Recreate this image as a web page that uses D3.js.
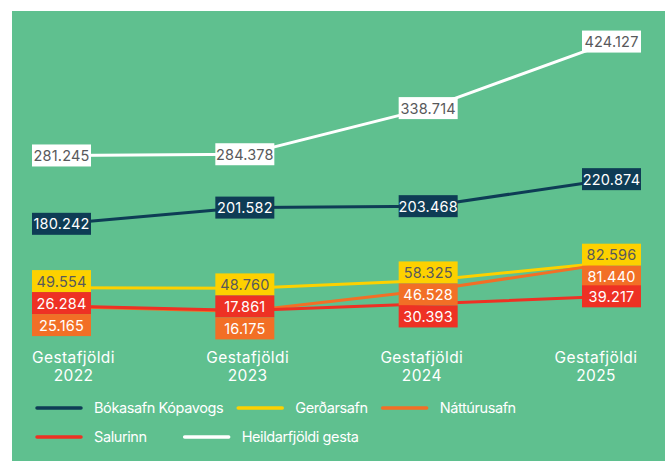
<!DOCTYPE html>
<html>
<head>
<meta charset="utf-8">
<script src="https://cdn.jsdelivr.net/npm/d3@7"></script>
<style>
    body { margin: 0; background: #fff; }
    svg { display: block; font-family: "Inter", "Liberation Sans", sans-serif; }
</style>
</head>
<body>
<div id="chart"></div>
<script>
// data
const years = ["2022", "2023", "2024", "2025"];
const seriesNames = ["Heildarfjöldi gesta", "Bókasafn Kópavogs", "Gerðarsafn", "Náttúrusafn", "Salurinn"];
const heildar = [281.245, 284.378, 338.714, 424.127];
const bokasafn = [180.242, 201.582, 203.468, 220.874];
const gerdarsafn = [49.554, 48.760, 58.325, 82.596];
const natturusafn = [25.165, 16.175, 46.528, 81.440];
const salurinn = [26.284, 17.861, 30.393, 39.217];
const legendOrder = ["Bókasafn Kópavogs", "Gerðarsafn", "Náttúrusafn", "Salurinn", "Heildarfjöldi gesta"];

const colors = {
    "Heildarfjöldi gesta": "#ffffff",
    "Bókasafn Kópavogs": "#0e3c55",
    "Gerðarsafn": "#fdd100",
    "Náttúrusafn": "#f26f26",
    "Salurinn": "#ee3124"
};
const labelText = {
    "Heildarfjöldi gesta": "#58595b",
    "Bókasafn Kópavogs": "#ffffff",
    "Gerðarsafn": "#58595b",
    "Náttúrusafn": "#ffffff",
    "Salurinn": "#ffffff"
};

const svgWidth = 668,
    svgHeight = 461;

let svg = d3.select("#chart").append("svg")
    .attr("width", svgWidth)
    .attr("height", svgHeight);

// green panel
svg.append("rect")
    .attr("x", 12)
    .attr("y", 11)
    .attr("width", 653)
    .attr("height", svgHeight - 11)
    .attr("fill", "#5fc08f");

let allValues = [heildar, bokasafn, gerdarsafn, natturusafn, salurinn];
let series = seriesNames.map((name, k) => ({
    name: name,
    values: allValues[k].map((v, i) => ({ year: years[i], value: v }))
}));

// scales - the original graphic squeezes the vertical axis unevenly
let xScale = d3.scalePoint()
    .domain(years)
    .range([61.5, 611.5]);
let xLabelScale = d3.scalePoint()
    .domain(years)
    .range([73.5, 596]);
let yScale = d3.scaleLinear()
    .domain([15, 30, 60, 85, 180, 205, 220, 285, 340, 430])
    .range([312, 304, 279, 260.5, 224, 205, 179.5, 154, 107, 37]);

let line = d3.line()
    .x((d) => xScale(d.year))
    .y((d) => yScale(d.value));

// lines, drawn back to front
let drawOrder = ["Heildarfjöldi gesta", "Bókasafn Kópavogs", "Gerðarsafn", "Náttúrusafn", "Salurinn"];
svg.append("g").selectAll("path")
    .data(drawOrder.map((n) => series.find((s) => s.name == n)))
    .join("path")
    .attr("d", (d) => line(d.values))
    .attr("fill", "none")
    .attr("stroke", (d) => colors[d.name])
    .attr("stroke-width", 3);

// value labels: stack boxes that would overlap
const boxW = 59, boxH = 22;
let labels = [];
years.forEach((yr, i) => {
    let items = series.map((s) => ({
        name: s.name,
        year: yr,
        value: s.values[i].value,
        target: yScale(s.values[i].value)
    })).sort((a, b) => a.target - b.target);

    // merge overlapping clusters
    let clusters = items.map((d) => ({ items: [d], center: d.target }));
    let merged = true;
    while (merged) {
        merged = false;
        for (let k = 0; k < clusters.length - 1; k++) {
            let a = clusters[k], b = clusters[k + 1];
            let aBottom = a.center + a.items.length * boxH / 2;
            let bTop = b.center - b.items.length * boxH / 2;
            if (aBottom > bTop) {
                let all = a.items.concat(b.items);
                clusters.splice(k, 2, { items: all, center: d3.mean(all, (d) => d.target) });
                merged = true;
                break;
            }
        }
    }
    clusters.forEach((c) => {
        let top = c.center - c.items.length * boxH / 2 + (c.items.length > 1 ? 3 : 0);
        c.items.forEach((d, j) => {
            d.y = top + j * boxH;
            labels.push(d);
        });
    });
});

let labelGroups = svg.append("g").selectAll("g")
    .data(labels)
    .join("g")
    .attr("transform", (d) => `translate(${xScale(d.year) - boxW / 2}, ${d.y})`);
labelGroups.append("rect")
    .attr("width", boxW)
    .attr("height", boxH)
    .attr("fill", (d) => colors[d.name]);
labelGroups.append("text")
    .attr("x", boxW / 2)
    .attr("y", boxH / 2 + 5.5)
    .attr("text-anchor", "middle")
    .attr("font-size", 14.5)
    .attr("letter-spacing", 0.2)
    .attr("fill", (d) => labelText[d.name])
    .text((d) => d3.format(".3f")(d.value));

// x axis labels
let xLabels = svg.append("g")
    .attr("font-size", 15.5)
    .attr("letter-spacing", 0.4)
    .attr("fill", "#ffffff")
    .attr("text-anchor", "middle");
xLabels.selectAll(".cat")
    .data(years)
    .join("text")
    .attr("class", "cat")
    .attr("x", (d) => xLabelScale(d))
    .attr("y", 363)
    .text("Gestafjöldi");
xLabels.selectAll(".yr")
    .data(years)
    .join("text")
    .attr("class", "yr")
    .attr("x", (d) => xLabelScale(d))
    .attr("y", 381)
    .text((d) => d);

// legend
let legend = svg.append("g");
let lx = 37, row = 0;
legendOrder.forEach((name, i) => {
    if (i == 3) { row = 1; lx = 37; }
    let ly = 408 + row * 29;
    let item = legend.append("g").attr("transform", `translate(${lx}, ${ly})`);
    item.append("line")
        .attr("x1", 0).attr("x2", 44)
        .attr("stroke", colors[name])
        .attr("stroke-width", 3.5)
        .attr("stroke-linecap", "round");
    let t = item.append("text")
        .attr("x", 57)
        .attr("y", 5)
        .attr("font-size", 14.5)
        .attr("letter-spacing", -0.4)
        .attr("fill", "#ffffff")
        .text(name);
    lx += 57 + t.node().getComputedTextLength() + (row == 1 ? 38 : 15);
});
</script>
</body>
</html>
